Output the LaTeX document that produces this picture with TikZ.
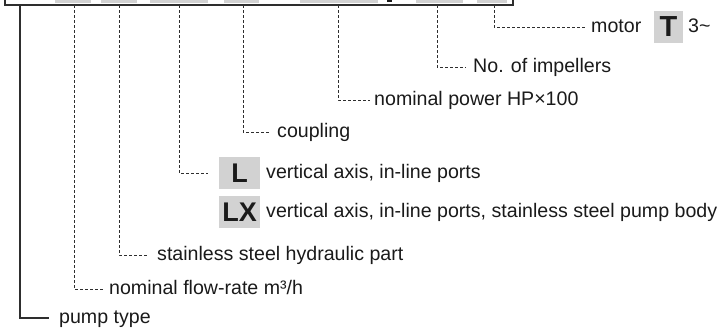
\documentclass[tikz,border=0pt]{standalone}
\usepackage{fontspec}
\setmainfont{Liberation Sans}
\definecolor{ink}{HTML}{1A1A1A}
\definecolor{linec}{HTML}{2E2E2E}
\definecolor{boxgray}{HTML}{D2D2D2}
\begin{document}
\begin{tikzpicture}[x=1pt,y=-1pt,
  lbl/.style={anchor=west, inner xsep=0pt, inner ysep=0pt, text height=14pt, text depth=4pt,
    font=\fontsize{19.6}{22}\selectfont, text=ink},
  leader/.style={draw=linec, line width=1pt, dash pattern=on 3pt off 2pt},
  solidlead/.style={draw=linec, line width=1.5pt},
  codebox/.style={fill=boxgray, text=ink, font=\fontsize{27}{29}\bfseries\selectfont,
    inner sep=0pt, minimum width=41pt, minimum height=32pt}]
\useasboundingbox (0,0) rectangle (722,327);

% partially visible code frame at the top
\fill[boxgray] (55,-10) rectangle (91,2.5);
\fill[boxgray] (101,-10) rectangle (137,2.5);
\fill[boxgray] (150,-10) rectangle (208,2.5);
\fill[boxgray] (224,-10) rectangle (259,2.5);
\fill[boxgray] (300,-10) rectangle (378,2.5);
\fill[boxgray] (416,-10) rectangle (463,2.5);
\fill[boxgray] (477,-10) rectangle (507,2.5);
\fill[ink] (387,-10) rectangle (392,1.8);
\draw[linec, line width=1.5pt] (5,-10) |- (513,5) -- (513,-10);

% tops of the leaders
\coordinate (pA) at (20,5);
\coordinate (pB) at (74,5);
\coordinate (pC) at (119,5);
\coordinate (pD) at (179,5);
\coordinate (pE) at (243,5);
\coordinate (pF) at (338,5);
\coordinate (pG) at (437,5);
\coordinate (pH) at (494,5);

% labels
\node[lbl] (lH) at (591,27) {motor};
\node[codebox, minimum width=29pt, font=\fontsize{29}{31}\bfseries\selectfont] (bT) at (668.5,27) {T};
\node[lbl] (l3) at (688,27) {3\textasciitilde};
\node[lbl] (lG) at (473,67) {No. of impellers};
\node[lbl] (lF) at (374,100) {nominal power HP×100};
\node[lbl] (lE) at (277,132) {coupling};
\node[codebox] (bL) at (239.5,173) {L};
\node[lbl] (lL) at (266,173) {vertical axis, in-line ports};
\node[codebox] (bLX) at (239.5,212) {LX};
\node[lbl] (lLX) at (266,212) {vertical axis, in-line ports, stainless steel pump body};
\node[lbl] (lC) at (157,255) {stainless steel hydraulic part};
\node[lbl] (lB) at (109,289) {nominal flow-rate m³/h};
\node[lbl] (lA) at (59,318) {pump type};

% connectors
\draw[leader] (pH) |- ([xshift=-6pt]lH.west);
\draw[leader] (pG) |- ([xshift=-7pt]lG.west);
\draw[leader] (pF) |- ([xshift=-4pt]lF.west);
\draw[leader] (pE) |- ([xshift=-7pt]lE.west);
\draw[leader] (pD) |- ([xshift=-11pt]bL.west);
\draw[leader] (pC) |- ([xshift=-9pt]lC.west);
\draw[leader] (pB) |- ([xshift=-6pt]lB.west);
\draw[solidlead] (pA) |- ([xshift=-10pt]lA.west);
\end{tikzpicture}
\end{document}
